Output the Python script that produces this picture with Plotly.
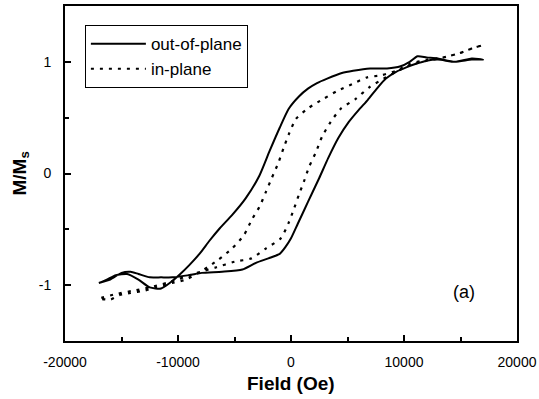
import plotly.graph_objects as go

# Out-of-plane loop (solid): descending branch then ascending branch
H_oop_down = [17000, 16000, 14500, 13000, 12000, 11200, 10500, 9700, 8500, 7000, 5500, 4500,
              3200, 2300, 1500, 700, -200, -1000, -1900, -2800, -4000, -5200, -6300, -7200,
              -8100, -9000, -9800, -10600, -11500, -12500, -13500, -14500, -15500, -16300, -17000]
M_oop_down = [1.02, 1.03, 1.00, 1.03, 1.04, 1.05, 1.00, 0.96, 0.94, 0.94, 0.92, 0.90,
              0.85, 0.81, 0.76, 0.69, 0.58, 0.41, 0.20, -0.02, -0.22, -0.37, -0.49, -0.60,
              -0.72, -0.82, -0.90, -0.97, -1.03, -1.02, -0.95, -0.90, -0.91, -0.95, -0.98]
H_oop_up = [-17000, -16000, -15000, -14200, -13500, -12500, -11500, -10500, -9000, -7900,
            -6100, -4300, -3100, -2000, -1000, -500, 0, 600, 1200, 1800, 2500, 3300, 4200,
            5100, 6000, 6800, 7600, 8400, 9300, 10200, 11000, 12000, 13000, 14500, 16000, 17000]
M_oop_up = [-0.98, -0.95, -0.89, -0.88, -0.90, -0.93, -0.93, -0.93, -0.91, -0.89,
            -0.88, -0.86, -0.80, -0.76, -0.72, -0.66, -0.58, -0.45, -0.32, -0.19, -0.04, 0.14, 0.32,
            0.46, 0.57, 0.66, 0.76, 0.85, 0.91, 0.95, 0.98, 1.01, 1.02, 1.00, 1.02, 1.02]

# In-plane loop (dashed)
H_ip_down = [17000, 16000, 15000, 13500, 12000, 10500, 9300, 8000, 6700, 5400, 4100, 2900,
             1600, 450, -200, -650, -1100, -1700, -2200, -2800, -3450, -4150, -5200, -6400,
             -7700, -9300, -10500, -12000, -13000, -14200, -15200, -16000, -17000]
M_ip_down = [1.15, 1.12, 1.08, 1.04, 1.02, 0.98, 0.92, 0.88, 0.86, 0.80, 0.74, 0.67,
             0.59, 0.49, 0.35, 0.23, 0.10, -0.04, -0.16, -0.30, -0.41, -0.55, -0.67, -0.77,
             -0.86, -0.95, -0.98, -1.02, -1.05, -1.07, -1.09, -1.13, -1.12]
H_ip_up = [-17000, -15500, -14000, -12500, -11000, -9500, -8000, -6600, -5000, -3500, -2200,
           -900, -200, 250, 700, 1150, 1600, 2200, 2750, 3500, 4400, 5750, 6900, 8200, 9300,
           10500, 12000, 13500, 15000, 16000, 17000]
M_ip_up = [-1.12, -1.08, -1.05, -1.02, -0.98, -0.93, -0.88, -0.84, -0.79, -0.76, -0.67,
           -0.58, -0.44, -0.32, -0.19, -0.07, 0.06, 0.19, 0.33, 0.46, 0.58, 0.67, 0.77, 0.85, 0.91,
           0.97, 1.01, 1.04, 1.08, 1.12, 1.15]

x_tick_vals = [-20000, -10000, 0, 10000, 20000]
x_tick_text = ["-20000", "-10000", "0", "10000", "20000"]
y_tick_vals = [-1, 0, 1]
y_tick_text = ["-1", "0", "1"]

FONT = "Liberation Sans, Arial, sans-serif"

fig = go.Figure()
fig.add_trace(go.Scatter(
    x=H_oop_down + H_oop_up, y=M_oop_down + M_oop_up, mode="lines",
    name="out-of-plane", line=dict(color="black", width=2, shape="spline", smoothing=0.6)))
fig.add_trace(go.Scatter(
    x=H_ip_down + H_ip_up, y=M_ip_down + M_ip_up, mode="lines",
    name="in-plane", line=dict(color="black", width=2.2, dash="3px,6px", shape="spline", smoothing=0.6)))

axis_common = dict(showline=True, linecolor="black", linewidth=2, mirror=True,
                   ticks="inside", ticklen=6, tickwidth=1.5, tickcolor="black",
                   showgrid=False, zeroline=False, automargin=False,
                   tickfont=dict(family=FONT, size=14, color="black"))

fig.update_xaxes(range=[-20000, 20000], tickmode="array", tickvals=x_tick_vals, ticktext=x_tick_text,
                 minor=dict(ticks="inside", ticklen=4, tickcolor="black", tickwidth=1.5, dtick=5000, tick0=0),
                 ticklabelstandoff=7, **axis_common)
fig.update_yaxes(range=[-1.5, 1.5], tickmode="array", tickvals=y_tick_vals, ticktext=y_tick_text,
                 minor=dict(ticks="inside", ticklen=4, tickcolor="black", tickwidth=1.5, dtick=0.5, tick0=0),
                 ticklabelstandoff=9, **axis_common)

# Axis titles as annotations
fig.add_annotation(x=0.5, y=0, xref="paper", yref="paper", yshift=-42, xanchor="center", yanchor="middle",
                   text="<b>Field (Oe)</b>", showarrow=False,
                   font=dict(family=FONT, size=19, color="black"))
fig.add_annotation(x=0, y=0.5, xref="paper", yref="paper", xshift=-45, xanchor="center", yanchor="middle",
                   text="<b>M/M<sub>s</sub></b>", textangle=-90, showarrow=False,
                   font=dict(family=FONT, size=19, color="black"))

fig.add_annotation(x=15300, y=-1.06, text="(a)", showarrow=False,
                   font=dict(family=FONT, size=18, color="black"))

fig.update_layout(
    width=539, height=399,
    margin=dict(l=65, r=22, t=6, b=58),
    paper_bgcolor="white", plot_bgcolor="white",
    font=dict(family=FONT, color="black"),
    showlegend=True,
    legend=dict(x=0.044, y=0.943, xanchor="left", yanchor="top",
                bordercolor="black", borderwidth=1, bgcolor="white", itemwidth=55,
                font=dict(family=FONT, size=17, color="black")),
)

fig.write_html("out.html", config={"displayModeBar": False},
               post_script="document.body.style.margin='0';")
